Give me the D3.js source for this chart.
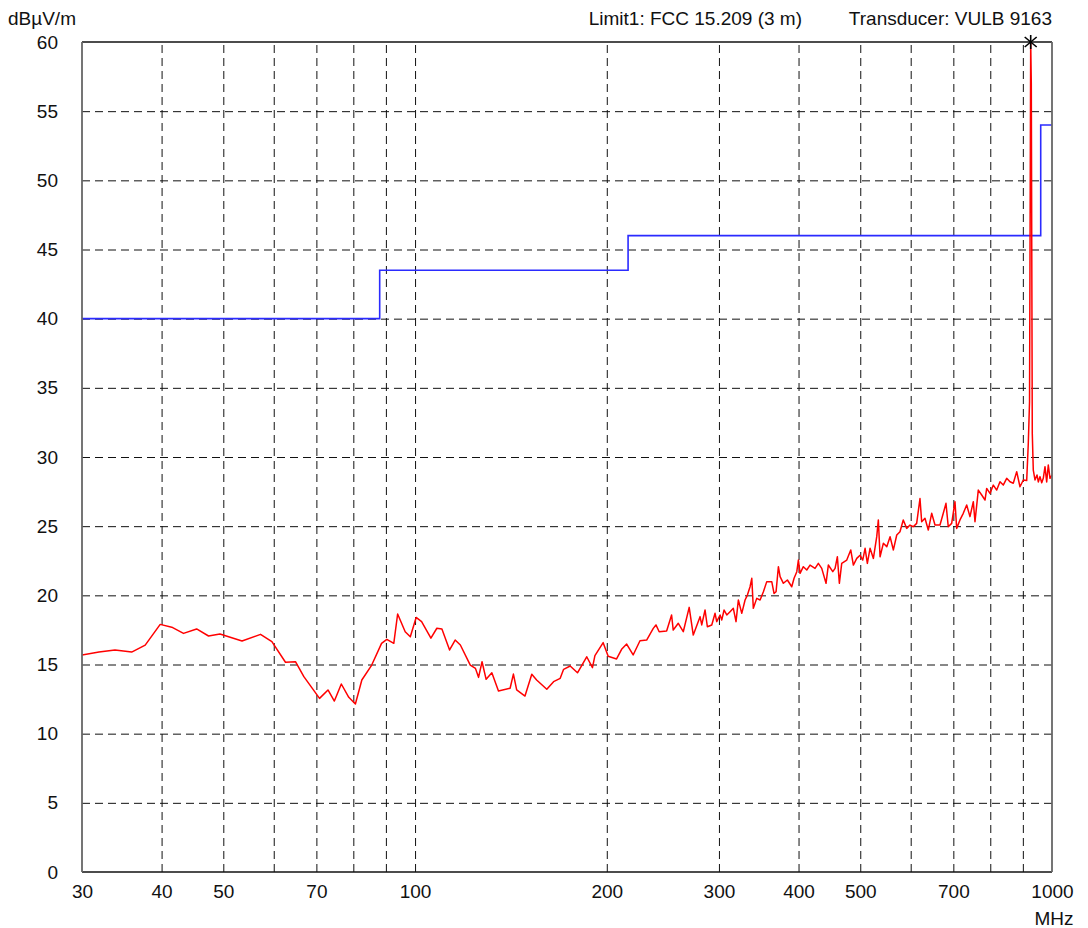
<!DOCTYPE html>
<html><head><meta charset="utf-8">
<script src="https://cdn.jsdelivr.net/npm/d3@7"></script>
<style>
body{margin:0;background:#fff}
svg text{font-family:"Liberation Sans",Arial,sans-serif;fill:#111;}
</style>
</head><body>
<svg id="c" width="1088" height="928"></svg>
<script>
// ---- data ----
const freqTickLabels = [30,40,50,70,100,200,300,400,500,700,1000];
const freqGrid = [40,50,60,70,80,90,100,200,300,400,500,600,700,800,900];
const levelTicks = [0,5,10,15,20,25,30,35,40,45,50,55,60];
const levelGrid = [5,10,15,20,25,30,35,40,45,50,55];

const limitFreq  = [30, 88, 216, 960, 1000];
const limitLevel = [40, 43.5, 46, 54, 54];

const traceFreq = [30,31.9,33.8,35.9,37.7,39.8,41.5,43.3,45.4,47.4,49.4,53.5,57.2,59.6,62.6,64.9,66.9,70.8,73.0,74.7,76.6,78.7,80.6,82.5,85.5,88.6,90.3,92.6,93.9,96.5,98.3,100.4,102.4,105.9,108.2,110.2,113.3,115.6,117.8,122.1,124.4,125.8,127.4,129.3,132.0,135.2,141,142.7,144.4,148.8,152.5,155.2,161,165,169,171.1,175.2,179.9,186,189.9,191.6,197.4,201.0,207.2,211,214.9,220.0,225.5,231.0,236.6,238.9,241.7,248.3,252.8,254.3,259.0,263.7,269.4,273.4,280.2,281.9,285.3,287.7,292.3,295.8,297.6,301.2,303.1,305.6,308.6,312.3,316.0,319.1,321.8,325.8,329.7,332.5,335.7,337.8,339.7,343.9,348.1,352.3,356.6,363.1,366.1,368.8,371.9,374.2,378.7,384.2,390.3,393.6,397.5,399.8,402.2,407.0,412.1,417.0,424.6,429.7,435.0,441.8,445.5,452.7,456.5,460.3,463.6,467.6,476.2,483.1,487.7,493.7,499.6,504.5,508.8,513.0,518.0,524.3,530.7,533.8,537.1,543.5,550.3,556.9,563.6,570.5,577.2,584.1,591.4,598.5,605.6,613.1,620.5,624.3,631.8,639.4,647.3,655.1,667.0,675.0,681.6,687.3,695.8,704.2,708.5,717.0,725.6,734.6,743.4,752.4,757.0,766.1,775.6,784.9,789.7,799.2,808.8,818.8,828.6,838.5,848.9,859.1,869.4,880.2,890.7,901.5,912.6,917.9,922,925.9,927.9,931.2,934.6,940.4,947.2,951.7,957.5,963.5,969.0,975.0,981.0,986.7,992.8,1000];
const traceLevel = [15.69,15.9,16.05,15.9,16.4,17.9,17.7,17.25,17.57,17.06,17.2,16.7,17.18,16.65,15.16,15.2,14.12,12.55,13.16,12.36,13.59,12.63,12.14,13.88,14.96,16.53,16.82,16.53,18.65,17.37,17.0,18.4,18.1,16.9,17.62,17.57,16.05,16.77,16.41,14.96,14.72,14.07,15.2,13.93,14.4,13.08,13.28,14.31,13.16,12.72,14.29,13.88,13.21,13.76,14.0,14.65,14.89,14.4,15.56,14.77,15.64,16.58,15.6,15.4,16.1,16.48,15.69,16.72,16.77,17.61,17.86,17.37,17.42,18.58,17.49,17.98,17.37,19.13,17.13,18.46,17.86,18.94,17.73,17.86,18.7,18.1,18.58,18.22,18.94,18.58,18.82,19.06,18.1,19.66,18.7,19.66,20.02,20.62,21.23,19.06,19.78,19.66,20.26,20.99,20.99,20.14,20.26,22.07,21.35,20.87,21.11,20.62,21.23,21.71,22.55,21.59,22.07,21.83,22.19,21.95,22.31,21.95,20.87,22.19,21.71,21.95,22.79,20.87,22.31,22.55,23.28,22.19,22.67,22.9,22.55,23.4,22.31,23.4,22.67,24.24,25.45,22.79,23.76,23.52,24.24,23.28,24.36,24.6,25.45,24.84,25.08,24.96,25.2,27.0,25.32,25.57,24.72,25.93,25.08,25.08,25.93,26.65,24.96,25.2,26.77,24.84,25.45,25.93,26.53,25.69,26.77,25.32,27.61,27.25,26.89,27.73,27.37,27.97,27.61,28.21,27.97,28.46,28.21,28.1,28.94,27.85,28.34,28.3,31.0,34,60,57,31.7,29.06,28.34,28.7,28.2,28.58,28.14,28.46,29.3,28.2,29.42,28.46,28.7];

const peakFreq = [925.9];
const peakLevel = [60];

const headerTexts = ["Limit1: FCC 15.209 (3 m)", "Transducer: VULB 9163"];
const unitY = "dBµV/m";
const unitX = "MHz";

// ---- layout ----
const L = 82, R = 1052, T = 42, B = 872;
const svg = d3.select("#c");
const x = d3.scaleLog().domain([30,1000]).range([L,R]);
const y = d3.scaleLinear().domain([0,60]).range([B,T]);

// grid (via axes)
const gx = svg.append("g").attr("transform",`translate(0,${B})`)
  .call(d3.axisBottom(x).tickValues(freqGrid).tickSize(-(B-T)).tickFormat(""));
gx.select(".domain").remove();
gx.selectAll("line").attr("stroke","#111").attr("stroke-width",1).attr("stroke-dasharray","8,5");

const gy = svg.append("g").attr("transform",`translate(${L},0)`)
  .call(d3.axisLeft(y).tickValues(levelGrid).tickSize(-(R-L)).tickFormat(""));
gy.select(".domain").remove();
gy.selectAll("line").attr("stroke","#111").attr("stroke-width",1).attr("stroke-dasharray","8,5");

// clip
svg.append("clipPath").attr("id","clip").append("rect")
  .attr("x",L).attr("y",T-1).attr("width",R-L).attr("height",B-T+1);

// limit line
const limitData = limitFreq.map((f,i)=>[f,limitLevel[i]]);
svg.append("path").datum(limitData)
  .attr("clip-path","url(#clip)")
  .attr("fill","none").attr("stroke","#2b2bff").attr("stroke-width",1.6)
  .attr("d", d3.line().x(d=>x(d[0])).y(d=>y(d[1])).curve(d3.curveStepAfter));

// trace
const traceData = traceFreq.map((f,i)=>[f,traceLevel[i]]);
svg.append("path").datum(traceData)
  .attr("clip-path","url(#clip)")
  .attr("fill","none").attr("stroke","#ff0000").attr("stroke-width",1.5)
  .attr("stroke-linejoin","round")
  .attr("d", d3.line().x(d=>x(d[0])).y(d=>y(d[1])));

// frame
svg.append("line").attr("x1",L).attr("x2",R).attr("y1",T).attr("y2",T).attr("stroke","#111").attr("stroke-width",1.6);
svg.append("line").attr("x1",L).attr("x2",R).attr("y1",B).attr("y2",B).attr("stroke","#111").attr("stroke-width",1.6);
svg.append("line").attr("x1",L).attr("x2",L).attr("y1",T).attr("y2",B).attr("stroke","#666").attr("stroke-width",1.8);
svg.append("line").attr("x1",R).attr("x2",R).attr("y1",T).attr("y2",B).attr("stroke","#666").attr("stroke-width",1.8);

// peak marker
const pk = svg.append("g").selectAll("g").data(peakFreq.map((f,i)=>[f,peakLevel[i]])).join("g")
  .attr("transform",d=>`translate(${x(d[0])},${y(d[1])})`);
[[0,-7,0,7],[-6,-5,6,5],[-6,5,6,-5]].forEach(s=>{
  pk.append("line").attr("x1",s[0]).attr("y1",s[1]).attr("x2",s[2]).attr("y2",s[3])
    .attr("stroke","#000").attr("stroke-width",1.6);
});

// axis labels
const ax = svg.append("g").attr("transform",`translate(0,${B})`)
  .call(d3.axisBottom(x).tickValues(freqTickLabels).tickSize(0).tickPadding(13).tickFormat(d3.format("d")));
ax.select(".domain").remove();
ax.selectAll("text").attr("font-size",19).style("font-family",'"Liberation Sans",Arial,sans-serif').attr("fill","#111");

const ay = svg.append("g").attr("transform",`translate(${L},0)`)
  .call(d3.axisLeft(y).tickValues(levelTicks).tickSize(0).tickPadding(24).tickFormat(d3.format("d")));
ay.select(".domain").remove();
ay.selectAll("text").attr("font-size",19).style("font-family",'"Liberation Sans",Arial,sans-serif').attr("fill","#111");

// header texts
svg.append("text").attr("x",8).attr("y",25).attr("font-size",19).text(unitY);
svg.append("text").attr("x",802).attr("y",25).attr("font-size",19).attr("text-anchor","end").text(headerTexts[0]);
svg.append("text").attr("x",1052).attr("y",25).attr("font-size",19).attr("text-anchor","end").text(headerTexts[1]);
svg.append("text").attr("x",1054).attr("y",925).attr("font-size",19).attr("text-anchor","middle").text(unitX);
</script>
</body></html>
